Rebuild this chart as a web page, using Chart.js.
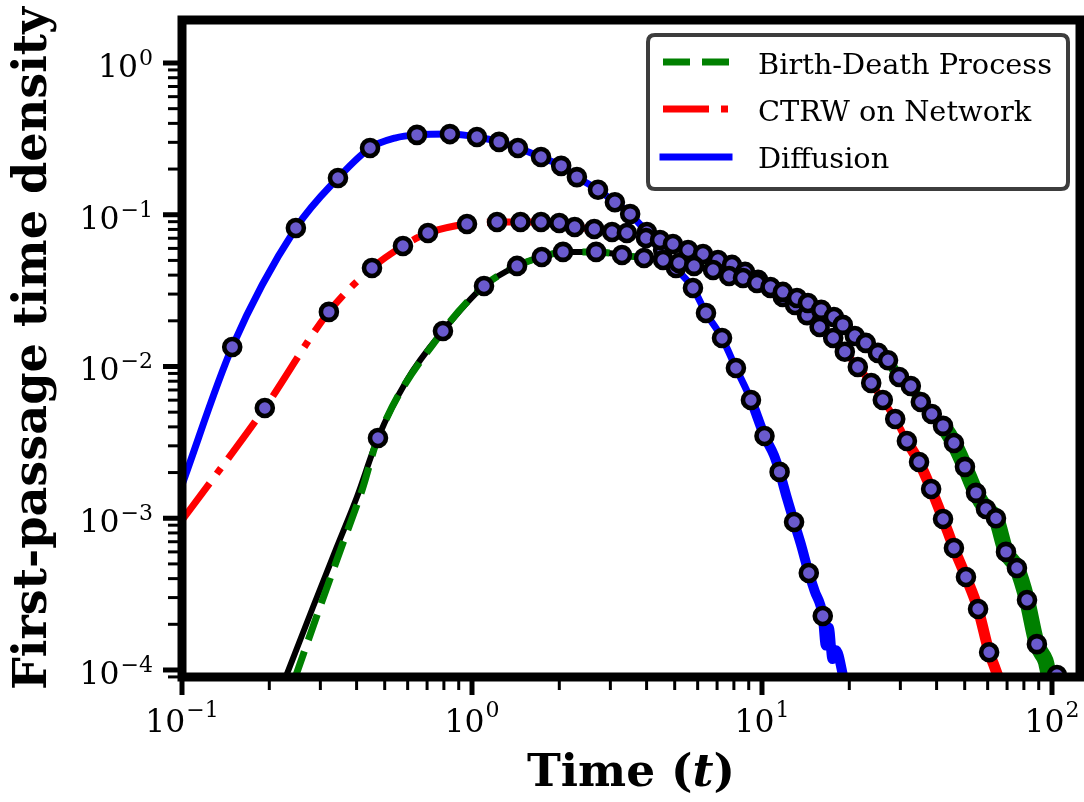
<!DOCTYPE html>
<html><head><meta charset="utf-8">
<script src="https://cdn.jsdelivr.net/npm/chart.js@4.4.0/dist/chart.umd.min.js"></script>
<style>html,body{margin:0;padding:0;background:#fff;}canvas{display:block;}</style>
</head><body>
<canvas id="c" width="1084" height="802"></canvas>
<script>
// ---------------- data ----------------
const seriesLabels = ['Birth-Death Process', 'CTRW on Network', 'Diffusion'];
const xTitleMain = 'Time', xTitleVar = 't';
const yTitle = 'First-passage time density';
const xTickValues = [0.1, 1, 10, 100];
const xTickLabels = ['10^−1', '10^0', '10^1', '10^2'];
const yTickValues = [1, 0.1, 0.01, 0.001, 0.0001];
const yTickLabels = ['10^0', '10^−1', '10^−2', '10^−3', '10^−4'];
const xMin = 0.1, xMax = 124.9, yMin = 8.99e-5, yMax = 1.92;

// Diffusion
const dfMarkT = [0.149, 0.247, 0.345, 0.445, 0.646, 0.839, 1.04, 1.24, 1.44, 1.73, 2.03, 2.30, 2.72, 3.11, 3.51, 4.01, 4.56, 5.05, 5.78, 6.41, 7.28, 8.13, 9.16, 10.2, 11.5, 12.9, 14.5, 16.2];
const dfMarkP = [0.01345, 0.0818, 0.1746, 0.275, 0.336, 0.340, 0.325, 0.302, 0.275, 0.240, 0.210, 0.177, 0.146, 0.121, 0.101, 0.0769, 0.0586, 0.0446, 0.0329, 0.0225, 0.0154, 0.00977, 0.00601, 0.00348, 0.00202, 0.000945, 0.000436, 0.000227];
const dfLineT = [0.1, 0.542, 11.0, 12.2, 13.6, 15.2, 16.6, 17.0, 17.5, 18.0, 19.2];
const dfLineP = [0.00166, 0.320, 0.0026, 0.00135, 0.00068, 0.00033, 0.000145, 0.00019, 0.000118, 0.000135, 0.000085];

// CTRW on network
const ctMarkT = [0.193, 0.321, 0.452, 0.578, 0.705, 0.961, 1.22, 1.47, 1.73, 2.00, 2.26, 2.64, 3.04, 3.42, 3.98, 4.45, 4.93, 5.56, 6.26, 7.05, 7.88, 8.74, 9.69, 10.7, 11.8, 13.0, 14.3, 15.8, 17.6, 19.3, 21.4, 23.8, 26.1, 28.8, 31.6, 34.8, 38.3, 42.1, 45.9, 50.5, 55.6, 60.7];
const ctMarkP = [0.00533, 0.0229, 0.0446, 0.0622, 0.0758, 0.0869, 0.0896, 0.0896, 0.0896, 0.0883, 0.0830, 0.0805, 0.0769, 0.0758, 0.0703, 0.0682, 0.0642, 0.0586, 0.0551, 0.0503, 0.0467, 0.0420, 0.0372, 0.0329, 0.0287, 0.0254, 0.0218, 0.0182, 0.0154, 0.0125, 0.00993, 0.00778, 0.00601, 0.00451, 0.00323, 0.00235, 0.00156, 0.000989, 0.000637, 0.000410, 0.000252, 0.000131];
const ctLineT = [0.1, 63.0, 65.5];
const ctLineP = [0.00097, 0.000108, 0.000088];

// Birth-death process
const bdMarkT = [0.474, 0.794, 1.10, 1.43, 1.74, 2.06, 2.68, 3.29, 3.92, 4.56, 5.17, 5.83, 6.78, 7.70, 8.60, 9.61, 10.7, 11.8, 13.2, 14.4, 16.0, 17.7, 19.0, 20.9, 22.8, 25.1, 27.2, 29.7, 32.6, 35.3, 38.5, 42.1, 45.9, 50.1, 54.7, 59.2, 64.1, 69.4, 75.7, 82.0, 88.7, 104];
const bdMarkP = [0.00338, 0.01714, 0.0339, 0.0460, 0.0527, 0.0569, 0.0569, 0.0543, 0.0519, 0.0503, 0.0481, 0.0460, 0.0432, 0.0395, 0.0383, 0.0355, 0.0334, 0.0310, 0.0283, 0.0262, 0.0236, 0.0212, 0.0188, 0.0159, 0.0143, 0.0123, 0.0110, 0.00853, 0.00744, 0.00583, 0.00486, 0.00406, 0.00313, 0.00218, 0.00147, 0.00115, 0.00100, 0.000600, 0.000470, 0.000289, 0.000148, 0.0000927];
const bdTheoryT = [0.228, 0.283, 0.342, 0.401, 0.597];
const bdTheoryP = [0.000090, 0.000260, 0.000647, 0.00138, 0.00815];
const bdSimT = [0.246, 0.299, 0.359, 0.418, 95.0, 98.5];
const bdSimP = [0.000090, 0.000260, 0.000687, 0.00154, 0.000115, 0.000089];

// ---------------- build ----------------
const pts = (T, P) => T.map((t, i) => ({x: t, y: P[i]}));
const merge = (a, b) => a.concat(b).sort((p, q) => p.x - q.x);

const GREEN = '#008000', RED = '#ff0000', BLUE = '#0000ff', MARK = '#6a5acd';
const greenDash = [27, 12], redDash = [46, 12, 7, 12];

const lineBase = {pointRadius: 0, showLine: true, fill: false, borderJoinStyle: 'round', cubicInterpolationMode: 'monotone', clip: 0};
const markBase = {showLine: false, pointRadius: 8, pointBorderWidth: 4.6, pointBackgroundColor: MARK, pointBorderColor: '#000', borderColor: '#000', clip: 0, order: 0};

const datasets = [
  Object.assign({}, lineBase, {label: 'theory', data: merge(pts(bdTheoryT, bdTheoryP), pts(bdMarkT, bdMarkP)), borderColor: '#000', borderWidth: 6, order: 5}),
  Object.assign({}, lineBase, {label: seriesLabels[0], data: merge(pts(bdSimT, bdSimP), pts(bdMarkT, bdMarkP)), borderColor: GREEN, borderWidth: 7, borderDash: greenDash, order: 4,
    segment: {
      borderDash: c => (c.p0.parsed.x > 22 ? [] : greenDash),
      borderWidth: c => (c.p0.parsed.x > 40 ? 16 : (c.p0.parsed.x > 22 ? 10 : 7))
    }}),
  Object.assign({}, lineBase, {label: seriesLabels[1], data: merge(pts(ctLineT, ctLineP), pts(ctMarkT, ctMarkP)), borderColor: RED, borderWidth: 7, borderDash: redDash, order: 3,
    segment: {
      borderDash: c => (c.p0.parsed.x > 8 ? [] : redDash),
      borderWidth: c => (c.p0.parsed.x > 30 ? 11 : 7)
    }}),
  Object.assign({}, lineBase, {label: seriesLabels[2], data: merge(pts(dfLineT, dfLineP), pts(dfMarkT, dfMarkP)), borderColor: BLUE, borderWidth: 7, order: 2,
    segment: {
      borderWidth: c => (c.p0.parsed.x > 9 ? 10 : 7)
    }}),
  Object.assign({}, markBase, {label: 'bd-points', data: pts(bdMarkT, bdMarkP)}),
  Object.assign({}, markBase, {label: 'ctrw-points', data: pts(ctMarkT, ctMarkP)}),
  Object.assign({}, markBase, {label: 'diff-points', data: pts(dfMarkT, dfMarkP)})
];

const FONT = '"DejaVu Serif"';

function drawPow(c, label, x, baseY, expY, align, baseSize, expSize) {
  const [b, e] = label.split('^');
  c.font = `${baseSize}px ${FONT}`;
  const wb = c.measureText(b).width;
  c.font = `${expSize}px ${FONT}`;
  const we = c.measureText(e).width;
  const gap = 1;
  const total = wb + gap + we;
  let x0 = align === 'center' ? x - total / 2 : x - total;
  c.textAlign = 'left'; c.textBaseline = 'alphabetic';
  c.font = `${baseSize}px ${FONT}`;
  c.fillText(b, x0, baseY);
  c.font = `${expSize}px ${FONT}`;
  c.fillText(e, x0 + wb + gap, expY);
}

const decor = {
  id: 'decor',
  afterDraw(chart) {
    const c = chart.ctx, a = chart.chartArea, xs = chart.scales.x, ys = chart.scales.y;
    c.save();
    // frame
    c.strokeStyle = '#000'; c.lineWidth = 9; c.lineJoin = 'miter';
    c.strokeRect(a.left, a.top, a.right - a.left, a.bottom - a.top);
    // ticks
    c.lineCap = 'butt';
    const minors = (lo, hi) => {
      const out = [];
      for (let k = Math.floor(Math.log10(lo)); k <= Math.ceil(Math.log10(hi)); k++)
        for (let m = 2; m <= 9; m++) { const v = m * Math.pow(10, k); if (v >= lo && v <= hi) out.push(v); }
      return out;
    };
    c.lineWidth = 3;
    for (const v of minors(xMin, xMax)) { const p = xs.getPixelForValue(v); c.beginPath(); c.moveTo(p, a.bottom); c.lineTo(p, a.bottom + 13); c.stroke(); }
    for (const v of minors(yMin, yMax)) { const p = ys.getPixelForValue(v); c.beginPath(); c.moveTo(a.left, p); c.lineTo(a.left - 14, p); c.stroke(); }
    c.lineWidth = 5;
    for (const v of xTickValues) { const p = xs.getPixelForValue(v); c.beginPath(); c.moveTo(p, a.bottom); c.lineTo(p, a.bottom + 18); c.stroke(); }
    for (const v of yTickValues) { const p = ys.getPixelForValue(v); c.beginPath(); c.moveTo(a.left, p); c.lineTo(a.left - 19, p); c.stroke(); }
    // tick labels
    c.fillStyle = '#000';
    c.font = `40px ${FONT}`;
    const baseSize = 40 * 40 / c.measureText('10').width;
    const expSize = baseSize * 0.7;
    xTickValues.forEach((v, i) => drawPow(c, xTickLabels[i], xs.getPixelForValue(v), 732, 717, 'center', baseSize, expSize));
    yTickValues.forEach((v, i) => { const p = ys.getPixelForValue(v); drawPow(c, yTickLabels[i], 153, p + 14, p + 2, 'right', baseSize, expSize); });
    // x title
    const parts = [[xTitleMain + ' (', 'bold'], [xTitleVar, 'italic bold'], [')', 'bold']];
    const meas = s => parts.reduce((w, [t, f]) => { c.font = `${f} ${s}px ${FONT}`; return w + c.measureText(t).width; }, 0);
    const xs0 = 45 * 208 / meas(45);
    let xx = (a.left + a.right) / 2 - meas(xs0) / 2;
    c.textAlign = 'left'; c.textBaseline = 'alphabetic';
    for (const [t, f] of parts) { c.font = `${f} ${xs0}px ${FONT}`; c.fillText(t, xx, 786); xx += c.measureText(t).width; }
    // y title
    c.font = `bold 45px ${FONT}`;
    const ys0 = 45 * 683 / c.measureText(yTitle).width;
    c.save();
    c.translate(46, (a.top + a.bottom) / 2);
    c.rotate(-Math.PI / 2);
    c.font = `bold ${ys0}px ${FONT}`;
    c.textAlign = 'center';
    c.fillText(yTitle, 0, 0);
    c.restore();
    // legend
    const L = 648, T = 35, W = 420, H = 154, R = 7;
    c.beginPath();
    c.moveTo(L + R, T); c.lineTo(L + W - R, T); c.quadraticCurveTo(L + W, T, L + W, T + R);
    c.lineTo(L + W, T + H - R); c.quadraticCurveTo(L + W, T + H, L + W - R, T + H);
    c.lineTo(L + R, T + H); c.quadraticCurveTo(L, T + H, L, T + H - R);
    c.lineTo(L, T + R); c.quadraticCurveTo(L, T, L + R, T); c.closePath();
    c.fillStyle = 'rgba(255,255,255,0.85)'; c.fill();
    c.strokeStyle = '#3d3d3d'; c.lineWidth = 4; c.stroke();
    const styles = [[GREEN, greenDash, 'butt'], [RED, redDash, 'butt'], [BLUE, [], 'square']];
    const lineY = [62, 109, 157], textY = [74, 121, 168];
    c.font = `29px ${FONT}`;
    const ls = 29 * 294 / c.measureText(seriesLabels[0]).width;
    seriesLabels.forEach((lab, i) => {
      c.strokeStyle = styles[i][0]; c.setLineDash(styles[i][1]); c.lineCap = styles[i][2]; c.lineWidth = 7;
      c.beginPath(); c.moveTo(663, lineY[i]); c.lineTo(729, lineY[i]); c.stroke();
      c.setLineDash([]);
      c.fillStyle = '#000'; c.font = `${ls}px ${FONT}`; c.textAlign = 'left';
      c.fillText(lab, 758, textY[i]);
    });
    c.restore();
  }
};

new Chart(document.getElementById('c'), {
  type: 'line',
  data: {datasets},
  options: {
    responsive: false, animation: false, devicePixelRatio: 1, events: [],
    parsing: true,
    layout: {autoPadding: false, padding: {left: 182, right: 4, top: 20, bottom: 125}},
    plugins: {legend: {display: false}, tooltip: {enabled: false}},
    scales: {
      x: {type: 'logarithmic', min: xMin, max: xMax, display: false},
      y: {type: 'logarithmic', min: yMin, max: yMax, display: false}
    }
  },
  plugins: [decor]
});
</script>
</body></html>
